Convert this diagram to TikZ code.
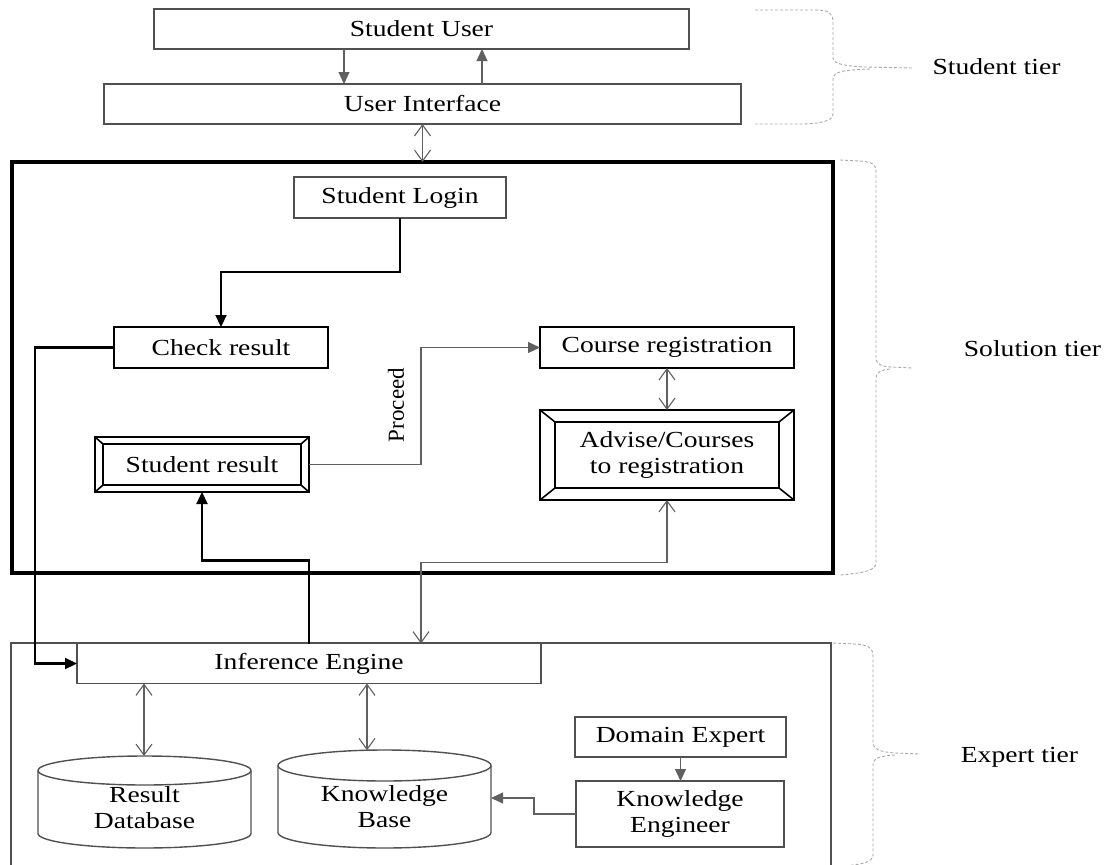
\documentclass[tikz,border=0pt]{standalone}
\usepackage{fontspec}
\setmainfont{Liberation Serif}[FakeStretch=1.2]
\newfontfamily\uprightserif{Liberation Serif}
\usetikzlibrary{arrows.meta,calc}

\definecolor{boxgray}{HTML}{505050}
\definecolor{linegray}{HTML}{606060}
\definecolor{bracegray}{HTML}{AAAAAA}

% inner frame and corner bevels of a raised box
\newcommand\bevelframe[3]{%
  \draw[line width=1.6pt]
    ($(#1.north west)+(#2,#3)$) rectangle ($(#1.south east)+(-#2,-#3)$)
    (#1.north west) -- ++(#2,#3)
    (#1.north east) -- ++(-#2,#3)
    (#1.south west) -- ++(#2,-#3)
    (#1.south east) -- ++(-#2,-#3);}

\begin{document}
\begin{tikzpicture}[x=1pt,y=-1pt,
  every node/.style={font=\fontsize{23}{26}\selectfont, align=center,
    inner sep=0pt, outer sep=0pt},
  plainbox/.style={draw=boxgray, line width=1.4pt, fill=white},
  darkbox/.style={draw=black, line width=2pt, fill=white},
  thinlink/.style={draw=linegray, line width=1.1pt},
  thicklink/.style={draw=black, line width=2.2pt},
  solidtip/.style={-{Triangle[width=11pt,length=12pt]}},
  opentwo/.style={{Straight Barb[width=16pt,length=11pt]}-{Straight Barb[width=16pt,length=11pt]}},
  tierbrace/.style={draw=bracegray, line width=0.9pt, dash pattern=on 3pt off 2pt},
  dbline/.style={draw=boxgray, line width=1.4pt}]

\clip (0,0) rectangle (1109,865);
\fill[white] (0,0) rectangle (1109,865);

% tier frames
\node[draw=black, line width=4pt, minimum width=821pt, minimum height=411pt] (sol) at (422.5,367.5) {};
\node[draw=boxgray, line width=1.4pt, minimum width=820pt, minimum height=230pt] (expert) at (421,758) {};

% student tier
\node[plainbox, minimum width=535pt, minimum height=40pt] (su) at (421.5,29) {Student User};
\node[plainbox, minimum width=637pt, minimum height=40pt] (ui) at (422.5,104) {User Interface};

% solution tier
\node[plainbox, minimum width=212pt, minimum height=41pt] (login) at (400,197.5) {Student Login};
\node[darkbox, minimum width=214pt, minimum height=41pt] (check) at (221,347.5) {Check result};
\node[darkbox, minimum width=254pt, minimum height=41pt] (course) at (667,347.5) {Course registration};
\node[darkbox, minimum width=214pt, minimum height=55pt] (sres) at (202,464.5) {Student result};
\node[darkbox, minimum width=254pt, minimum height=90pt] (advise) at (667,455) {Advise/Courses\\to registration};
\bevelframe{sres}{8}{7}
\bevelframe{advise}{15}{12}
\node[rotate=90, font=\uprightserif\fontsize{23}{26}\selectfont] (proc) at (396,405) {Proceed};

% expert tier
\node[plainbox, minimum width=464pt, minimum height=40pt] (ie) at (309,663.5) {Inference Engine};
\node[plainbox, minimum width=211pt, minimum height=40pt] (de) at (680.5,737) {Domain Expert};
\node[plainbox, minimum width=208pt, minimum height=66pt] (ke) at (680,814) {Knowledge\\Engineer};

% databases
\draw[dbline, fill=white] (38,770.5) -- (38,833.5) arc[start angle=180, end angle=0, x radius=106.5, y radius=14.5] -- (251,770.5);
\draw[dbline] (144.5,770.5) ellipse [x radius=106.5, y radius=14.5];
\node (rdb) at (144.5,808) {Result\\Database};
\draw[dbline, fill=white] (278,765.5) -- (278,832.5) arc[start angle=180, end angle=0, x radius=106.5, y radius=15.5] -- (491,765.5);
\draw[dbline] (384.5,765.5) ellipse [x radius=106.5, y radius=15.5];
\node (kb) at (384.5,807) {Knowledge\\Base};
\coordinate (rdbtop) at (144,756);
\coordinate (kbtop) at (367,750.3);
\coordinate (kbside) at (491,798);

% connectors
\draw[thinlink, solidtip] ([xshift=-77.5pt]su.south) -- ([xshift=-78.5pt]ui.north);
\draw[thinlink, solidtip] ([xshift=59.5pt]ui.north) -- ([xshift=60.5pt]su.south);
\draw[thinlink, opentwo] (ui.south) -- (ui.south |- sol.north);
\draw[thicklink, solidtip] (login.south) -- ++(0,54) -| (check.north);
\draw[thicklink, solidtip] (check.west) -- ++(-79,0) |- (ie.west);
\draw[thicklink, solidtip] (ie.north) -- ++(0,-83) -| (sres.south);
\draw[thinlink, solidtip] (sres.east) -- ++(112,0) |- (course.west);
\draw[thinlink, opentwo] (course.south) -- (advise.north);
\draw[thinlink, opentwo] ([xshift=112pt]ie.north) -- ++(0,-81) -| (advise.south);
\draw[thinlink, opentwo] (rdbtop |- ie.south) -- (rdbtop);
\draw[thinlink, opentwo] (kbtop |- ie.south) -- (kbtop);
\draw[thinlink, solidtip] (ke.west) -- ++(-42,0) |- (kbside);
\draw[thinlink, solidtip] (de.south) -- (de.south |- ke.north);

% tier braces and labels
\draw[tierbrace] (755,10) -- (815,10) .. controls (829,10) and (833,13) .. (833,22) -- (833,58)
  .. controls (833,64) and (845,66) .. (865,67) -- (912,68);
\draw[tierbrace] (870,69) .. controls (845,70) and (833,71) .. (833,79) -- (833,114)
  .. controls (833,121) and (820,124) .. (800,124) -- (755,124);
\node (studenttier) at (996.5,67) {Student tier};

\draw[tierbrace] (840,160) -- (860,161) .. controls (872,162) and (876,164) .. (876,172) -- (876,358)
  .. controls (876,364) and (881,366) .. (890,367) -- (912,368);
\draw[tierbrace] (890,369) .. controls (881,370) and (876,372) .. (876,378) -- (876,563)
  .. controls (876,570) and (865,573) .. (840,575);
\node (solutiontier) at (1032.5,349) {Solution tier};

\draw[tierbrace] (833,643) -- (855,644) .. controls (869,645) and (873,648) .. (873,656) -- (873,743)
  .. controls (873,749) and (880,752) .. (895,753) -- (920,754);
\draw[tierbrace] (895,755) .. controls (880,756) and (873,758) .. (873,765) -- (873,855)
  .. controls (873,862) and (862,865) .. (840,866);
\node (experttier) at (1019.5,757) {Expert tier};
\end{tikzpicture}
\end{document}
